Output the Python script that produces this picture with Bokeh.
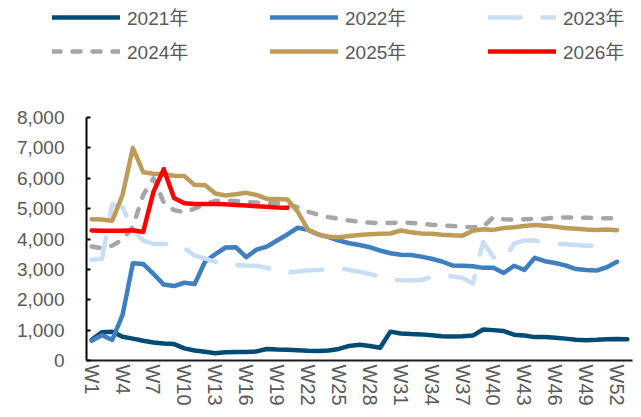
from bokeh.plotting import figure
from bokeh.layouts import column
from bokeh.models import Range1d, FixedTicker, NumeralTickFormatter, Legend, LegendItem
from bokeh.embed import file_html
from bokeh.resources import INLINE

# ---- data ----
tick_weeks = list(range(1, 53, 3))
tick_labels = {w: f"W{w}" for w in tick_weeks}
y_ticks = [0, 1000, 2000, 3000, 4000, 5000, 6000, 7000, 8000]

s2021 = [680, 930, 950, 780, 720, 650, 590, 560, 540, 400,
         330, 290, 240, 270, 280, 280, 300, 380, 360, 350,
         340, 320, 310, 330, 380, 480, 520, 480, 420, 950,
         890, 870, 860, 830, 800, 790, 800, 820, 1020, 1000,
         970, 850, 820, 770, 770, 750, 720, 680, 670, 680,
         700, 710, 700]
s2022 = [650, 830, 680, 1500, 3200, 3180, 2850, 2500, 2450, 2560,
         2520, 3250, 3500, 3720, 3730, 3400, 3650, 3750, 3950, 4150,
         4370, 4300, 4150, 4060, 3950, 3860, 3800, 3730, 3620, 3530,
         3480, 3470, 3420, 3350, 3260, 3130, 3120, 3100, 3050, 3050,
         2880, 3120, 2980, 3380, 3270, 3210, 3130, 3010, 2980, 2960,
         3070, 3250]
s2023 = [3320, 3350, 5150, 5050, 4300, 3950, 3840, 3830, 3860, 3700,
         3450, 3360, 3250, 3180, 3150, 3120, 3120, 3050, 2950, 2900,
         2930, 2970, 2980, 3000, 3050, 2980, 2920, 2850, 2750, 2660,
         2640, 2630, 2650, 2750, 2770, 2770, 2720, 2530, 3900, 3400,
         3300, 3850, 3950, 3950, 3870, 3840, 3830, 3800, 3780, 3780]
s2024 = [3750, 3700, 3780, 3980, 4400, 5450, 6000, 5200, 4950, 4880,
         5000, 5150, 5250, 5270, 5250, 5220, 5200, 5180, 5180, 5150,
         5050, 4900, 4800, 4720, 4670, 4610, 4570, 4540, 4520, 4530,
         4540, 4530, 4500, 4470, 4450, 4430, 4400, 4390, 4400, 4720,
         4650, 4640, 4650, 4660, 4670, 4700, 4710, 4700, 4700, 4690,
         4680, 4680]
s2025 = [4650, 4640, 4600, 5450, 7000, 6200, 6150, 6130, 6080, 6070,
         5780, 5780, 5500, 5430, 5470, 5520, 5450, 5320, 5320, 5300,
         4900, 4300, 4150, 4070, 4060, 4100, 4130, 4160, 4170, 4180,
         4280, 4220, 4180, 4170, 4140, 4120, 4110, 4270, 4320, 4300,
         4360, 4390, 4430, 4460, 4440, 4400, 4360, 4340, 4310, 4300,
         4310, 4290]
s2026 = [4280, 4270, 4270, 4270, 4290, 4230, 5550, 6300, 5350, 5180,
         5150, 5150, 5150, 5140, 5120, 5100, 5080, 5060, 5040, 5030]

series = [
    ("2021年", s2021, "#004B73", None),
    ("2022年", s2022, "#3F7FC0", None),
    ("2023年", s2023, "#C9DEF2", "32 22"),
    ("2024年", s2024, "#A6A6A6", "8 12"),
    ("2025年", s2025, "#BF9B5A", None),
    ("2026年", s2026, "#FF0000", None),
]

FONT = "Liberation Sans, Noto Sans CJK SC"
TXT = "#595959"
W = 641

# ---- legend strip ----
pl = figure(width=W, height=100, output_backend="svg", toolbar_location=None,
            x_axis_type=None, y_axis_type=None,
            x_range=Range1d(0, 1), y_range=Range1d(0, 1),
            min_border_left=0, min_border_right=0, min_border_top=0,
            min_border_bottom=0)
pl.outline_line_color = None
pl.xgrid.visible = False
pl.ygrid.visible = False
pl.frame_align = False

# ---- chart ----
p = figure(width=W, height=317, output_backend="svg", toolbar_location=None,
           x_range=Range1d(0.5, 53.5), y_range=Range1d(0, 8000),
           min_border_left=86, min_border_right=9, min_border_top=17,
           min_border_bottom=57)
p.outline_line_color = None
p.xgrid.visible = False
p.ygrid.visible = False
p.frame_align = False

items = []
for name, vals, color, dash in series:
    xs = list(range(1, len(vals) + 1))
    kw = dict(line_color=color, line_width=4.5, line_join="round", line_cap="round")
    if dash:
        kw["line_dash"] = dash
    p.line(xs, vals, **kw)
    # legend-only renderer, placed outside the strip's visible range
    r = pl.line([5, 6], [5, 5], **kw)
    items.append(LegendItem(label=name, renderers=[r]))


def make_legend(its, y):
    return Legend(items=its, orientation="horizontal", location=(52, y),
                  glyph_width=68, glyph_height=20, label_height=20,
                  label_width=129, label_standoff=7, spacing=14,
                  padding=0, margin=0,
                  label_text_font=FONT, label_text_font_size="19px",
                  label_text_color=TXT, label_text_baseline="middle",
                  border_line_color=None, background_fill_alpha=0)


pl.add_layout(make_legend(items[:3], 70), "center")
pl.add_layout(make_legend(items[3:], 36), "center")

# y axis
ya = p.yaxis[0]
ya.ticker = FixedTicker(ticks=y_ticks)
ya.formatter = NumeralTickFormatter(format="0,0")
ya.axis_line_color = "black"
ya.axis_line_width = 2
ya.major_tick_in = 4
ya.major_tick_out = 0
ya.major_tick_line_color = "black"
ya.major_tick_line_width = 2
ya.minor_tick_line_color = None
ya.major_label_text_font = FONT
ya.major_label_text_font_size = "19px"
ya.major_label_text_color = TXT
ya.major_label_standoff = 22

# x axis
xa = p.xaxis[0]
xa.ticker = FixedTicker(ticks=tick_weeks)
xa.major_label_overrides = tick_labels
xa.axis_line_color = "#1a1a1a"
xa.axis_line_width = 2
xa.major_tick_in = 0
xa.major_tick_out = 0
xa.minor_tick_line_color = None
xa.major_label_orientation = "vertical"
xa.major_label_text_font = FONT
xa.major_label_text_font_size = "20px"
xa.major_label_text_color = TXT
xa.major_label_standoff = 4

layout = column(pl, p, spacing=0)
open("out.html", "w").write(file_html(layout, INLINE))
